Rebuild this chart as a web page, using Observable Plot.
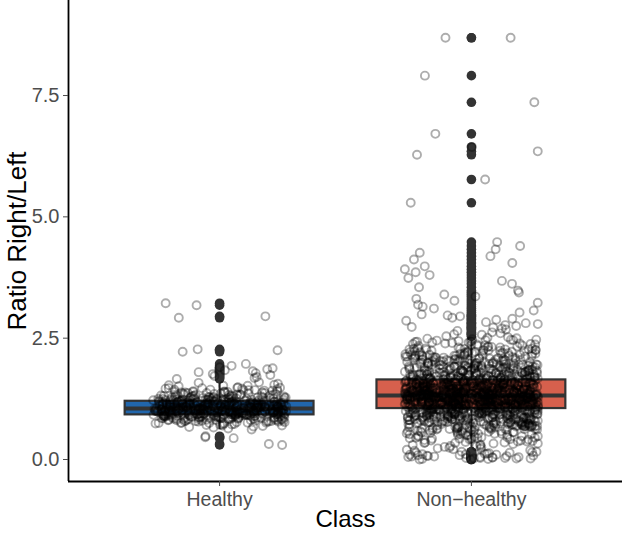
<!DOCTYPE html>
<html>
<head>
<meta charset="utf-8">
<script src="https://cdn.jsdelivr.net/npm/d3@7"></script>
<script src="https://cdn.jsdelivr.net/npm/@observablehq/plot@0.6"></script>
<style>
  html, body { margin: 0; padding: 0; background: #fff; }
</style>
</head>
<body>
<div id="chart"></div>
<script>
const classes = ["Healthy", "Non\u2212healthy"];
const xTitle = "Class";
const yTitle = "Ratio Right/Left";
const yTicks = [0, 2.5, 5, 7.5];

// box statistics
const q1 = [0.92, 1.05];
const medians = [1.05, 1.32];
const q3 = [1.20, 1.64];
const fills = ["#2166ac", "#d6604d"];

// Healthy observations
const healthy = [
0.62,0.64,0.66,0.67,0.69,0.68,0.71,0.73,0.70,0.74,0.72,0.73,0.71,0.76,0.78,0.75,0.79,0.77,0.76,0.78,0.79,0.75,0.77,
0.81,0.83,0.80,0.84,0.82,0.81,0.83,0.84,0.80,0.82,0.83,0.81,0.84,0.82,0.80,0.83,
0.86,0.88,0.85,0.89,0.87,0.86,0.88,0.89,0.85,0.87,0.86,0.88,0.87,0.89,0.85,0.86,0.88,0.87,0.89,0.86,0.85,0.88,0.87,0.89,
0.91,0.93,0.90,0.94,0.92,0.91,0.93,0.94,0.90,0.92,0.91,0.93,0.92,0.94,0.90,0.91,0.93,0.92,0.94,0.91,0.90,0.93,0.92,0.94,0.91,0.93,0.90,0.92,0.94,0.91,
0.96,0.98,0.95,0.99,0.97,0.96,0.98,0.99,0.95,0.97,0.96,0.98,0.97,0.99,0.95,0.96,0.98,0.97,0.99,0.96,0.95,0.98,0.97,0.99,0.96,0.98,0.95,0.97,0.99,0.96,0.98,0.97,0.95,0.99,
1.01,1.03,1.00,1.04,1.02,1.01,1.03,1.04,1.00,1.02,1.01,1.03,1.02,1.04,1.00,1.01,1.03,1.02,1.04,1.01,1.00,1.03,1.02,1.04,1.01,1.03,1.00,1.02,1.04,1.01,1.03,1.02,1.00,1.04,1.02,1.03,
1.06,1.08,1.05,1.09,1.07,1.06,1.08,1.09,1.05,1.07,1.06,1.08,1.07,1.09,1.05,1.06,1.08,1.07,1.09,1.06,1.05,1.08,1.07,1.09,1.06,1.08,1.05,1.07,1.09,1.06,1.08,1.07,1.05,1.09,
1.11,1.13,1.10,1.14,1.12,1.11,1.13,1.14,1.10,1.12,1.11,1.13,1.12,1.14,1.10,1.11,1.13,1.12,1.14,1.11,1.10,1.13,1.12,1.14,1.11,1.13,1.10,1.12,1.14,1.11,
1.16,1.18,1.15,1.19,1.17,1.16,1.18,1.19,1.15,1.17,1.16,1.18,1.17,1.19,1.15,1.16,1.18,1.17,1.19,1.16,1.15,1.18,1.17,1.19,
1.21,1.23,1.20,1.24,1.22,1.21,1.23,1.24,1.20,1.22,1.21,1.23,1.22,1.24,1.20,1.21,1.23,1.22,1.26,1.28,1.25,1.29,1.27,1.26,1.28,1.29,1.25,1.27,1.26,1.28,1.27,
1.31,1.33,1.30,1.34,1.32,1.31,1.33,1.34,1.32,1.30,1.36,1.38,1.35,1.39,1.37,1.36,1.38,1.39,1.41,1.43,1.40,1.44,1.42,1.43,1.46,1.48,1.45,1.49,1.47,1.51,1.53,1.52,1.54,1.56,1.58,1.59,
0.78,0.82,0.85,0.88,0.90,0.92,0.94,0.96,0.98,1.00,1.02,1.04,1.06,1.08,1.10,1.12,1.14,1.16,1.18,1.20,
1.22,1.25,1.28,1.31,1.35,1.39,1.44,0.80,0.84,0.87,0.91,0.93,0.95,0.97,0.99,1.01,1.03,1.05,1.07,1.09,
1.11,1.13,1.15,1.17,1.19,1.21,1.24,1.27,1.30,1.33,1.37,1.42,1.48,0.74,0.79,0.83,0.86,0.89,0.92,0.95,
0.98,1.01,1.04,1.07,1.10,1.13,1.16,1.19,1.23,1.26,1.29,1.34,1.40,1.46,1.52,0.70,0.76,0.81,0.87,0.93,
0.99,1.05,1.11,1.17,1.24,1.32,1.38,0.96,1.00,1.03,1.06,1.09,1.12,0.94,0.97,1.02,1.08,1.14,1.21,1.27,
0.82,0.85,0.88,0.91,0.94,0.97,1.00,1.03,1.06,1.09,1.12,1.15,1.18,1.21,1.24,1.27,1.30,1.34,1.38,1.43,
0.84,0.87,0.90,0.93,0.96,0.99,1.02,1.05,1.08,1.11,1.14,1.17,1.20,1.23,1.26,1.29,1.33,1.37,1.41,1.47,
0.86,0.89,0.92,0.95,0.98,1.01,1.04,1.07,1.10,1.13,1.16,1.19,1.22,1.25,1.28,1.32,1.36,0.75,0.79,0.83,
0.93,0.97,1.01,1.05,1.09,1.13,1.17,1.21,0.88,0.91,0.95,0.99,1.03,1.07,1.11,1.15,1.19,1.02,1.06,1.10,
3.22,3.18,2.95,2.92,2.27,2.25,2.22,1.97,1.93,1.90,1.88,1.86,1.84,1.82,1.80,1.78,1.76,1.74,1.72,1.70,1.68,1.66,
0.30,0.32,0.44,0.46,0.48
];

// Non-healthy observations
const nonHealthy = [
0.18,0.21,0.24,0.19,0.27,0.22,0.29,0.25,
0.31,0.34,0.37,0.32,0.39,0.35,0.33,0.38,0.36,
0.41,0.44,0.47,0.42,0.49,0.45,0.43,0.48,0.46,0.40,0.44,
0.51,0.54,0.57,0.52,0.59,0.55,0.53,0.58,0.56,0.50,0.54,0.57,0.52,0.59,
0.61,0.64,0.67,0.62,0.69,0.65,0.63,0.68,0.66,0.60,0.64,0.67,0.62,0.69,0.65,0.61,0.68,0.63,
0.71,0.74,0.77,0.72,0.79,0.75,0.73,0.78,0.76,0.70,0.74,0.77,0.72,0.79,0.75,0.71,0.78,0.73,0.76,0.70,0.74,0.77,0.72,0.79,
0.81,0.84,0.87,0.82,0.89,0.85,0.83,0.88,0.86,0.80,0.84,0.87,0.82,0.89,0.85,0.81,0.88,0.83,0.86,0.80,0.84,0.87,0.82,0.89,0.85,0.81,0.88,0.83,0.86,0.84,0.87,0.82,
0.91,0.94,0.97,0.92,0.99,0.95,0.93,0.98,0.96,0.90,0.94,0.97,0.92,0.99,0.95,0.91,0.98,0.93,0.96,0.90,0.94,0.97,0.92,0.99,0.95,0.91,0.98,0.93,0.96,0.94,0.97,0.92,0.95,0.91,0.98,0.93,0.96,0.90,0.94,0.97,0.92,0.99,0.95,0.93,
1.01,1.04,1.07,1.02,1.09,1.05,1.03,1.08,1.06,1.00,1.02,1.05,1.08,1.01,1.06,1.09,1.04,1.07,1.03,1.05,
1.06,1.02,1.09,1.04,1.07,1.01,1.08,1.03,1.05,1.00,1.03,1.07,1.04,1.08,1.02,1.06,1.09,1.05,1.01,1.07,
1.08,1.04,1.02,1.06,1.03,1.09,1.05,1.07,1.01,1.04,1.05,1.09,1.06,1.02,1.08,1.03,1.07,1.00,1.04,1.06,
1.11,1.14,1.17,1.12,1.19,1.15,1.13,1.18,1.16,1.10,1.12,1.15,1.18,1.11,1.16,1.19,1.14,1.17,1.13,1.15,
1.16,1.12,1.19,1.14,1.17,1.11,1.18,1.13,1.15,1.10,1.13,1.17,1.14,1.18,1.12,1.16,1.19,1.15,1.11,1.17,
1.18,1.14,1.12,1.16,1.13,1.19,1.15,1.17,1.11,1.14,1.15,1.19,1.16,1.12,1.18,1.13,1.17,1.10,1.14,1.16,
1.12,1.17,1.14,1.19,1.11,1.16,1.18,1.13,1.15,1.10,1.13,1.18,
1.21,1.24,1.27,1.22,1.29,1.25,1.23,1.28,1.26,1.20,1.22,1.25,1.28,1.21,1.26,1.29,1.24,1.27,1.23,1.25,
1.26,1.22,1.29,1.24,1.27,1.21,1.28,1.23,1.25,1.20,1.23,1.27,1.24,1.28,1.22,1.26,1.29,1.25,1.21,1.27,
1.28,1.24,1.22,1.26,1.23,1.29,1.25,1.27,1.21,1.24,1.25,1.29,1.26,1.22,1.28,1.23,1.27,1.20,1.24,1.26,
1.22,1.27,1.24,1.29,1.21,1.26,1.28,1.23,1.25,1.20,1.23,1.28,1.26,1.21,1.29,1.24,1.27,1.22,
1.31,1.34,1.37,1.32,1.39,1.35,1.33,1.38,1.36,1.30,1.32,1.35,1.38,1.31,1.36,1.39,1.34,1.37,1.33,1.35,
1.36,1.32,1.39,1.34,1.37,1.31,1.38,1.33,1.35,1.30,1.33,1.37,1.34,1.38,1.32,1.36,1.39,1.35,1.31,1.37,
1.38,1.34,1.32,1.36,1.33,1.39,1.35,1.37,1.31,1.34,1.35,1.39,1.36,1.32,1.38,1.33,1.37,1.30,1.34,1.36,
1.32,1.37,1.34,1.39,1.31,1.36,1.38,1.33,1.35,1.30,1.33,1.38,1.36,1.31,
1.41,1.44,1.47,1.42,1.49,1.45,1.43,1.48,1.46,1.40,1.42,1.45,1.48,1.41,1.46,1.49,1.44,1.47,1.43,1.45,
1.46,1.42,1.49,1.44,1.47,1.41,1.48,1.43,1.45,1.40,1.43,1.47,1.44,1.48,1.42,1.46,1.49,1.45,1.41,1.47,
1.48,1.44,1.42,1.46,1.43,1.49,1.45,1.47,1.41,1.44,1.45,1.49,1.46,1.42,1.48,1.43,1.47,1.40,1.44,1.46,
1.42,1.47,1.44,1.49,
1.51,1.54,1.57,1.52,1.59,1.55,1.53,1.58,1.56,1.50,1.52,1.55,1.58,1.51,1.56,1.59,1.54,1.57,1.53,1.55,
1.56,1.52,1.59,1.54,1.57,1.51,1.58,1.53,1.55,1.50,1.53,1.57,1.54,1.58,1.52,1.56,1.59,1.55,1.51,1.57,
1.58,1.54,1.52,1.56,1.53,1.59,1.55,1.57,1.51,1.54,1.55,1.59,
1.61,1.64,1.67,1.62,1.69,1.65,1.63,1.68,1.66,1.60,1.62,1.65,1.68,1.61,1.66,1.69,1.64,1.67,1.63,1.65,
1.66,1.62,1.69,1.64,1.67,1.61,1.68,1.63,1.65,1.60,1.63,1.67,1.64,1.68,1.62,1.66,1.69,1.65,1.61,1.67,
1.71,1.74,1.77,1.72,1.79,1.75,1.73,1.78,1.76,1.70,1.72,1.75,1.78,1.71,1.76,1.79,1.74,1.77,1.73,1.75,
1.76,1.72,1.79,1.74,1.77,1.71,1.78,1.73,1.75,1.70,
1.81,1.84,1.87,1.82,1.89,1.85,1.83,1.88,1.86,1.80,1.82,1.85,1.88,1.81,1.86,1.89,1.84,1.87,1.83,1.85,1.86,1.82,1.89,1.84,
1.91,1.94,1.97,1.92,1.99,1.95,1.93,1.98,1.96,1.90,1.92,1.95,1.98,1.91,1.96,1.99,1.94,1.97,1.93,
2.01,2.04,2.07,2.02,2.09,2.05,2.03,2.08,2.06,2.00,2.02,2.05,2.08,2.01,2.06,
2.11,2.14,2.17,2.12,2.19,2.15,2.13,2.18,2.16,2.10,2.12,2.15,
2.21,2.24,2.27,2.22,2.29,2.25,2.23,2.28,2.26,2.20,
2.31,2.34,2.37,2.32,2.39,2.35,2.33,2.38,
2.41,2.44,2.47,2.43,2.49,2.46,2.52,
0.23,0.28,0.35,0.41,0.46,0.53,0.58,0.63,0.66,0.72,0.26,0.33,0.39,0.44,0.51,0.56,0.61,0.67,0.73,0.78,
0.20,0.30,0.37,0.43,0.48,0.55,0.62,0.69,0.75,0.81,0.34,0.42,0.47,0.52,0.57,0.64,0.70,0.76,0.83,0.86,
0.45,0.50,0.56,0.60,0.66,0.71,0.77,0.80,0.85,0.88,0.53,0.58,0.63,0.68,0.74,0.79,0.82,0.87,0.89,0.84,
0.65,0.72,0.78,0.81,0.86,0.69,0.75,0.83,0.88,0.73,
0.91,0.96,1.02,1.07,1.13,1.18,1.24,1.29,1.35,1.41,1.46,1.52,1.57,1.63,1.68,0.94,0.99,1.05,1.10,1.16,
1.21,1.27,1.32,1.38,1.43,1.49,1.54,1.60,1.65,0.93,0.98,1.03,1.09,1.14,1.20,1.25,1.31,1.36,1.42,1.47,
1.53,1.58,1.64,1.69,0.92,0.97,1.01,1.06,1.12,1.17,1.23,1.28,1.34,1.39,1.45,1.50,1.56,1.61,1.67,0.95,
1.00,1.04,1.08,1.11,1.15,1.19,1.22,1.26,1.30,1.33,1.37,1.40,1.44,1.48,1.51,1.55,1.59,1.62,1.66,1.04,
1.09,1.13,1.18,1.23,1.27,1.32,1.36,1.41,1.45,1.50,1.02,1.07,1.11,1.16,1.21,1.25,1.30,1.34,1.39,1.43,
1.48,1.53,1.57,1.62,0.96,1.01,1.06,1.10,1.15,1.20,1.24,1.29,1.33,1.38,1.42,1.47,1.51,1.56,1.61,1.65,
0.99,1.03,1.08,1.12,1.17,1.22,1.26,1.31,1.35,1.40,1.44,1.49,1.54,1.58,1.63,1.68,0.97,1.05,1.14,1.28,
1.19,1.24,1.33,1.37,1.46,1.52,1.59,1.64,1.11,1.26,1.21,1.30,1.35,1.42,1.27,1.32,1.17,1.23,1.38,1.29,
1.71,1.73,1.76,1.78,1.81,1.83,1.86,1.88,1.91,1.93,1.96,1.98,2.01,2.03,2.06,2.08,2.11,2.13,2.16,2.18,
2.21,2.23,2.26,2.28,2.31,2.33,2.36,2.38,2.41,2.43,2.46,2.48,2.51,1.72,1.75,1.77,1.80,1.82,1.85,1.87,
1.90,1.92,1.95,1.97,2.00,2.02,2.05,2.07,2.10,2.12,2.15,2.17,2.20,2.22,2.25,2.27,2.30,2.32,2.35,2.37,
2.40,2.42,2.45,2.47,2.50,1.74,1.79,1.84,1.89,1.94,1.99,2.04,2.09,2.14,2.19,2.24,2.29,2.34,2.39,2.44,
1.73,1.78,1.83,1.88,1.93,1.98,2.03,2.08,2.13,2.18,
0.61,0.66,0.70,0.74,0.77,0.80,0.83,0.86,0.89,0.92,0.95,0.98,0.63,0.68,0.72,0.76,0.79,0.82,0.85,0.88,
0.91,0.94,0.97,0.99,0.64,0.69,0.73,0.78,0.81,0.84,0.87,0.90,0.93,0.96,0.98,0.67,0.71,0.75,0.80,0.85,
0.89,0.92,0.95,0.97,0.70,0.77,0.83,0.88,0.93,0.96,
1.00,1.03,1.06,1.09,1.12,1.15,1.18,1.21,1.24,1.27,1.30,1.33,1.36,1.39,1.42,1.45,1.48,1.51,1.54,1.57,
1.60,1.63,1.66,1.69,1.02,1.05,1.08,1.11,1.14,1.17,1.20,1.23,1.26,1.29,1.32,1.35,1.38,1.41,1.44,1.47,
1.50,1.53,1.56,1.59,1.62,1.65,1.68,1.01,1.04,1.07,1.10,1.13,1.16,1.19,1.22,1.25,1.28,1.31,1.34,1.37,
1.40,1.43,1.46,1.49,1.52,1.55,1.58,1.61,1.64,1.67,1.03,1.09,1.15,1.21,1.27,1.33,1.39,1.45,1.51,1.57,
1.63,1.69,1.06,1.12,1.18,1.24,1.30,1.36,1.42,1.48,1.54,1.60,1.66,1.08,1.14,1.20,1.26,1.32,1.38,1.44,
1.50,1.56,1.62,1.05,1.11,1.17,1.23,1.29,1.35,1.41,1.47,1.53,1.59,1.65,1.13,1.19,1.25,1.31,1.37,1.43,
1.22,1.28,1.34,1.40,1.46,1.16,1.24,1.30,1.36,1.27,1.32,1.21,1.18,1.26,1.33,1.29,1.35,1.23,1.31,1.28,
1.70,1.72,1.74,1.76,1.78,1.80,1.82,1.84,1.86,1.88,1.90,1.92,1.94,1.96,1.98,2.00,2.02,2.04,2.06,2.08,
2.10,2.12,2.14,2.16,2.18,2.20,2.22,2.24,2.26,2.28,1.71,1.75,1.79,1.83,1.87,1.91,1.95,1.99,2.03,2.07,
2.11,2.15,2.19,2.23,2.27,1.73,1.77,1.81,1.85,1.89,1.93,1.97,2.01,2.05,1.74,1.78,1.82,1.86,1.90,1.94,
2.54,2.57,2.60,2.62,2.65,2.68,2.70,2.72,2.75,2.77,2.79,2.81,2.83,2.86,2.88,2.90,2.92,2.95,2.97,2.99,2.58,2.73,
3.03,3.07,3.11,3.15,3.19,3.23,3.27,3.31,3.36,3.40,3.44,3.48,
3.55,3.62,3.68,3.74,3.80,3.86,3.92,3.98,
4.05,4.12,4.19,4.26,4.33,4.40,4.48,
5.29,5.77,6.28,6.35,6.44,6.71,7.36,7.91,8.69,8.69,
0.00,0.01,0.01,0.02,0.02,0.03,0.03,0.04,0.04,0.05,0.05,0.06,0.06,0.07,0.08,0.08,0.09,0.10,0.10,0.11,0.12,0.13,0.14,0.15,0.16,
0.00,0.02,0.03,0.05,0.07,0.09,0.11,0.12,0.14,0.16
];

const groups = [healthy, nonHealthy];

const boxes = classes.map((c, i) => {
  const iqr = q3[i] - q1[i];
  const lo = q1[i] - 1.5 * iqr, hi = q3[i] + 1.5 * iqr;
  const inside = groups[i].filter(v => v >= lo && v <= hi);
  return {cls: c, pos: i + 1, q1: q1[i], median: medians[i], q3: q3[i],
          wlo: d3.min(inside), whi: d3.max(inside), fill: fills[i], lo, hi};
});

const points = groups.flatMap((vals, k) => vals.map((v, j) => ({pos: k + 1, v, j, k})));
const outliers = points.filter(p => p.v < boxes[p.k].lo || p.v > boxes[p.k].hi);

// deterministic jitter (presentation only)
function jitter(j, k) {
  const s = Math.sin((j + 1) * 12.9898 + (k + 1) * 78.233) * 43758.5453;
  return (s - Math.floor(s)) * 2 - 1;
}
const halfBox = 0.375;
const jitterWidth = 0.265;

const yDomain = [-0.453, 9.458];

const chart = Plot.plot({
  width: 622,
  height: 538,
  marginLeft: 68,
  marginRight: 0,
  marginTop: 0,
  marginBottom: 57,
  style: {fontFamily: "'Liberation Sans', Arial, sans-serif", background: "#fff", overflow: "visible"},
  x: {type: "linear", domain: [0.4, 2.6]},
  y: {domain: yDomain},
  marks: [
    Plot.ruleX(boxes, {x: "pos", y1: "q3", y2: "whi", stroke: "#333", strokeWidth: 2}),
    Plot.ruleX(boxes, {x: "pos", y1: "wlo", y2: "q1", stroke: "#333", strokeWidth: 2}),
    Plot.rect(boxes, {x1: d => d.pos - halfBox, x2: d => d.pos + halfBox, y1: "q1", y2: "q3",
                      fill: "fill", stroke: "#333", strokeWidth: 2.2}),
    Plot.ruleY(boxes, {y: "median", x1: d => d.pos - halfBox, x2: d => d.pos + halfBox,
                       stroke: "#333", strokeWidth: 4}),
    Plot.dot(outliers, {x: "pos", y: "v", r: 4.8, fill: "#333", stroke: "none"}),
    Plot.dot(points, {x: d => d.pos + jitterWidth * jitter(d.j, d.k), y: "v", r: 4,
                      fill: "none", stroke: "#000", strokeOpacity: 0.32, strokeWidth: 1.9}),
    Plot.ruleX([0.4], {stroke: "#000", strokeWidth: 1.8}),
    Plot.ruleY([yDomain[0]], {stroke: "#000", strokeWidth: 1.8}),
    Plot.axisY({ticks: yTicks, tickFormat: d3.format(".1f"), tickSize: 5, tickPadding: 4,
                fontSize: 20, color: "#4d4d4d", label: null}),
    Plot.axisX({ticks: [1, 2], tickFormat: d => classes[d - 1], tickSize: 5, tickPadding: 6,
                fontSize: 19.5, color: "#4d4d4d", label: null}),
    Plot.text([yTitle], {frameAnchor: "left", textAnchor: "middle", dx: -51, rotate: -90,
                         fontSize: 26, fill: "#000"}),
    Plot.text([xTitle], {frameAnchor: "bottom", dy: 45, fontSize: 24, fill: "#000"})
  ]
});
document.getElementById("chart").appendChild(chart);
</script>
</body>
</html>
